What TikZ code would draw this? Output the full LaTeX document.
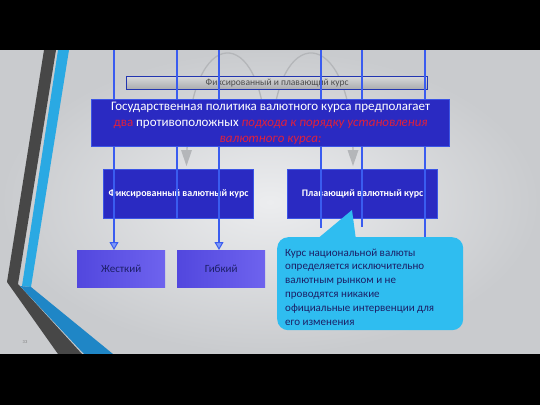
\documentclass[tikz,border=0pt]{standalone}
\usepackage{fontspec}
\setmainfont{Carlito}
\usetikzlibrary{arrows.meta}
\definecolor{bglight}{HTML}{ECEDEF}
\definecolor{bgdark}{HTML}{C9CBCE}
\definecolor{stripedark}{HTML}{474747}
\definecolor{stripeblue}{HTML}{2AA9E3}
\definecolor{stripeblue2}{HTML}{1F86C6}
\definecolor{boxblue}{HTML}{2A2AC2}
\definecolor{boxedge}{HTML}{3B55E6}
\definecolor{vblue}{HTML}{3A5CF0}
\definecolor{vlight}{HTML}{7F9AF7}
\definecolor{redt}{HTML}{E0203C}
\definecolor{subtop}{HTML}{5247DE}
\definecolor{subbot}{HTML}{6E63EE}
\definecolor{navy}{HTML}{1C1F66}
\definecolor{bubblec}{HTML}{2FBDF0}
\definecolor{bartop}{HTML}{D6D7D9}
\definecolor{barbot}{HTML}{A9AAAD}
\definecolor{barframe}{HTML}{2235B0}
\definecolor{arcgray}{HTML}{B4B6B9}
\tikzset{
  bigbox/.style={draw=boxedge, line width=1.2pt, fill=boxblue, minimum width=358pt, minimum height=47pt, anchor=north west, align=center, text=white, font=\fontsize{13}{16}\selectfont, inner sep=0pt},
  fixbox/.style={draw=boxedge, line width=1.2pt, fill=boxblue, minimum width=150pt, minimum height=49pt, anchor=north west, text=white, font=\fontsize{10}{12}\selectfont\bfseries, inner sep=0pt},
  subbox/.style={draw=none, left color=subtop, right color=subbot, minimum width=88pt, minimum height=37pt, anchor=north west, text=navy, font=\fontsize{11}{13}\selectfont, inner sep=0pt},
  graybar/.style={draw=barframe, line width=1.4pt, top color=bartop, bottom color=barbot, minimum width=301pt, minimum height=13pt, anchor=north west, text=black!70, font=\fontsize{9.5}{11}\selectfont, inner sep=0pt},
  vline/.style={draw=vblue, line width=2pt},
  vtip/.style={-{Triangle[width=9pt,length=8pt,fill=vlight,line width=1pt]}},
  bubblebox/.style={fill=bubblec, rounded corners=11pt, minimum width=186pt, minimum height=93pt, anchor=north west, inner sep=0pt},
  bubbletext/.style={anchor=west, align=left, text=navy, font=\fontsize{11}{13.8}\selectfont, inner sep=0pt},
  arcline/.style={draw=arcgray, line width=1.3pt},
  arctip/.style={fill=arcgray}
}
\begin{document}
\begin{tikzpicture}[x=1pt,y=-1pt]
\useasboundingbox (0,0) rectangle (540,405);
% background
\shade[inner color=bglight, outer color=bgdark] (0,50) rectangle (540,354);
% left stripes
\fill[stripedark] (44,50) -- (56,50) -- (18,284) -- (82,354) -- (58,354) -- (7,282) -- cycle;
\fill[stripeblue] (58,50) -- (69,50) -- (31,287) -- (22,286) -- cycle;
\fill[stripeblue2] (20,286) -- (31,287) -- (113,354) -- (84,354) -- cycle;
\node[text=black!50, font=\fontsize{4.5}{5}\selectfont] (pg) at (25,342) {33};
% background arcs
\draw[arcline] (187,152) .. controls (189,22) and (263,22) .. (266,140);
\draw[arcline] (353,152) .. controls (351,22) and (274,22) .. (272,140);
\fill[arctip] (181,150) -- (192,150) -- (186.5,166) -- cycle;
\fill[arctip] (347.5,150) -- (358.5,150) -- (353,166) -- cycle;
% gray bar
\node[graybar] (bar) at (126,76) {Фиксированный и плавающий курс};
% second level boxes
\node[fixbox] (fix) at (103,169) {Фиксированный валютный курс};
\node[fixbox] (flt) at (287,169) {Плавающий валютный курс};
% third level boxes
\node[subbox] (zh) at (77,250) {Жесткий};
\node[subbox] (gb) at (177,250) {Гибкий};
% vertical lines
\coordinate (t1) at (114,50);
\coordinate (t2) at (177,50);
\coordinate (t3) at (219,50);
\coordinate (t4) at (321,50);
\coordinate (t5) at (362,50);
\coordinate (t6) at (425,50);
\coordinate (e4) at (321,228);
\coordinate (e5) at (362,227);
\coordinate (e6) at (425,238);
\draw[vline, vtip] (t1) -- (zh.north -| t1);
\draw[vline] (t2) -- (fix.south -| t2);
\draw[vline, vtip] (t3) -- (gb.north -| t3);
\draw[vline] (t4) -- (e4);
\draw[vline] (t5) -- (e5);
\draw[vline] (t6) -- (e6);
% main box
\node[bigbox] (main) at (91,99) {Государственная политика валютного курса предполагает\\
{\color{redt}два} противоположных {\color{redt}\itshape подхода к порядку установления}\\
{\color{redt}\itshape валютного курса:}};
% bubble
\node[bubblebox] (bub) at (277,237) {};
\coordinate (ptip) at (352,210);
\fill[bubblec] (ptip) -- (356,240) -- (316,240) -- cycle;
\node[bubbletext] (btxt) at (285,287) {Курс национальной валюты\\
определяется исключительно\\
валютным рынком и не\\
проводятся никакие\\
официальные интервенции для\\
его изменения};
% black bars
\fill[black] (0,0) rectangle (540,50);
\fill[black] (0,354) rectangle (540,405);
\end{tikzpicture}
\end{document}
